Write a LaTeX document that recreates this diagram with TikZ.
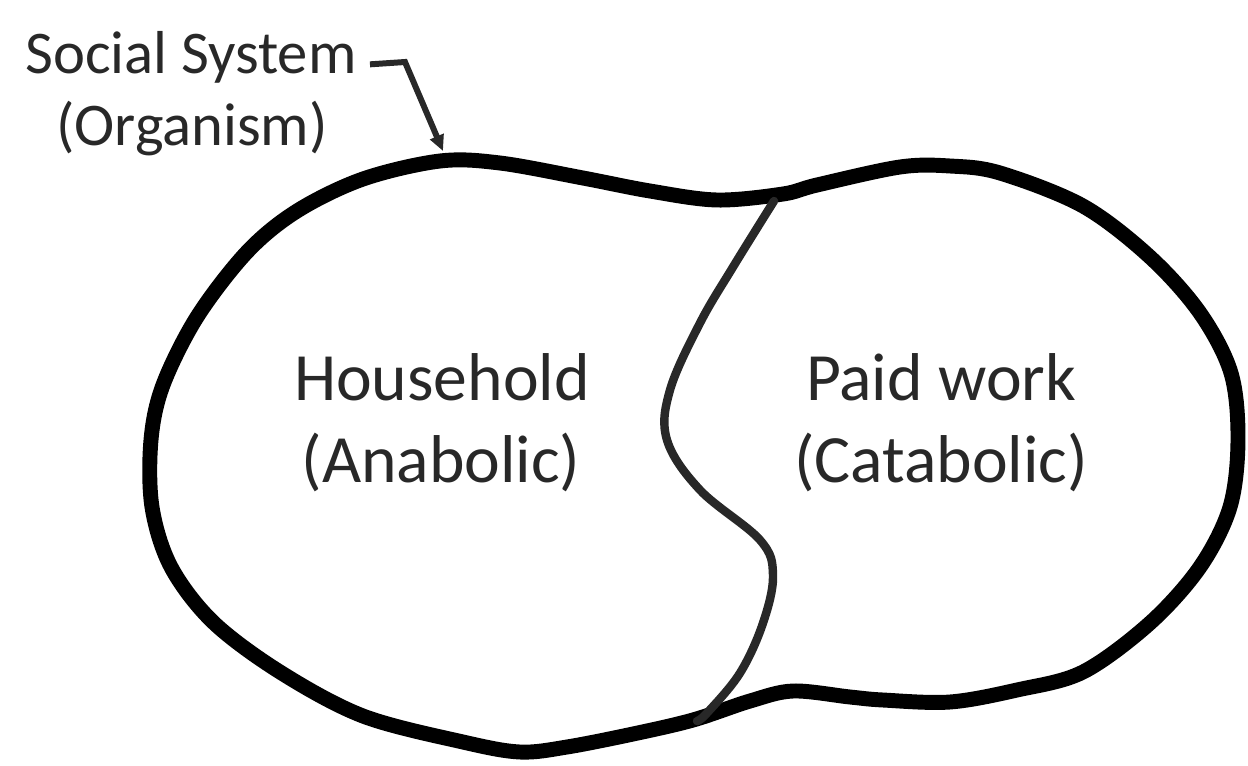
\documentclass[tikz,border=0pt]{standalone}
\usepackage{fontspec}
\setmainfont{Carlito}
\usetikzlibrary{arrows.meta}
\definecolor{ink}{RGB}{40,40,40}
\begin{document}
\begin{tikzpicture}[x=0.02cm,y=-0.02cm,
  every node/.style={text=ink,inner sep=0pt,anchor=base},
  toplabel/.style={font=\fontsize{34.5}{41}\selectfont},
  partlabel/.style={font=\fontsize{38.5}{47}\selectfont}]
  \useasboundingbox (0,0) rectangle (1248,765);
  \node[toplabel] (social) at (191,73) {Social System};
  \node[toplabel] (organism) at (192,145) {(Organism)};
  \node[partlabel] (house) at (442,400) {Household};
  \node[partlabel] (anab) at (441,482) {(Anabolic)};
  \node[partlabel] (paid) at (941,400) {Paid work};
  \node[partlabel] (catab) at (941,482) {(Catabolic)};
  \coordinate (bend) at (405,62); \coordinate (tip) at (443,151);
  \draw[ink,line width=3.4pt,-{Triangle[length=9pt,width=8pt]}]
    ([xshift=13*0.02cm,yshift=-0.15cm]social.east) -- (bend) -- (tip);
  \draw[line width=8.5pt,line join=round] plot[smooth cycle,tension=0.55] coordinates {
    (440,161) (500,163) (583,178) (650,191) (717,200) (783,194) (817,185) (900,167)
    (950,166) (1000,173) (1083,206) (1150,257) (1200,313) (1231,373) (1238,440)
    (1230,507) (1200,567) (1150,623) (1083,672) (1017,690) (950,702) (883,700)
    (850,697) (793,691) (750,701) (693,720) (633,734) (567,747) (520,752)
    (463,742) (363,716) (280,672) (213,622) (171,567) (152,507) (151,440)
    (163,385) (197,317) (247,252) (297,211) (363,179)};
  \draw[ink,line width=4.8pt,line cap=round] plot[smooth,tension=0.6] coordinates {
    (774,201) (733,267) (700,323) (670,390) (667,440) (700,490) (760,540)
    (773,575) (763,623) (740,673) (707,713) (697,721)};
\end{tikzpicture}
\end{document}
